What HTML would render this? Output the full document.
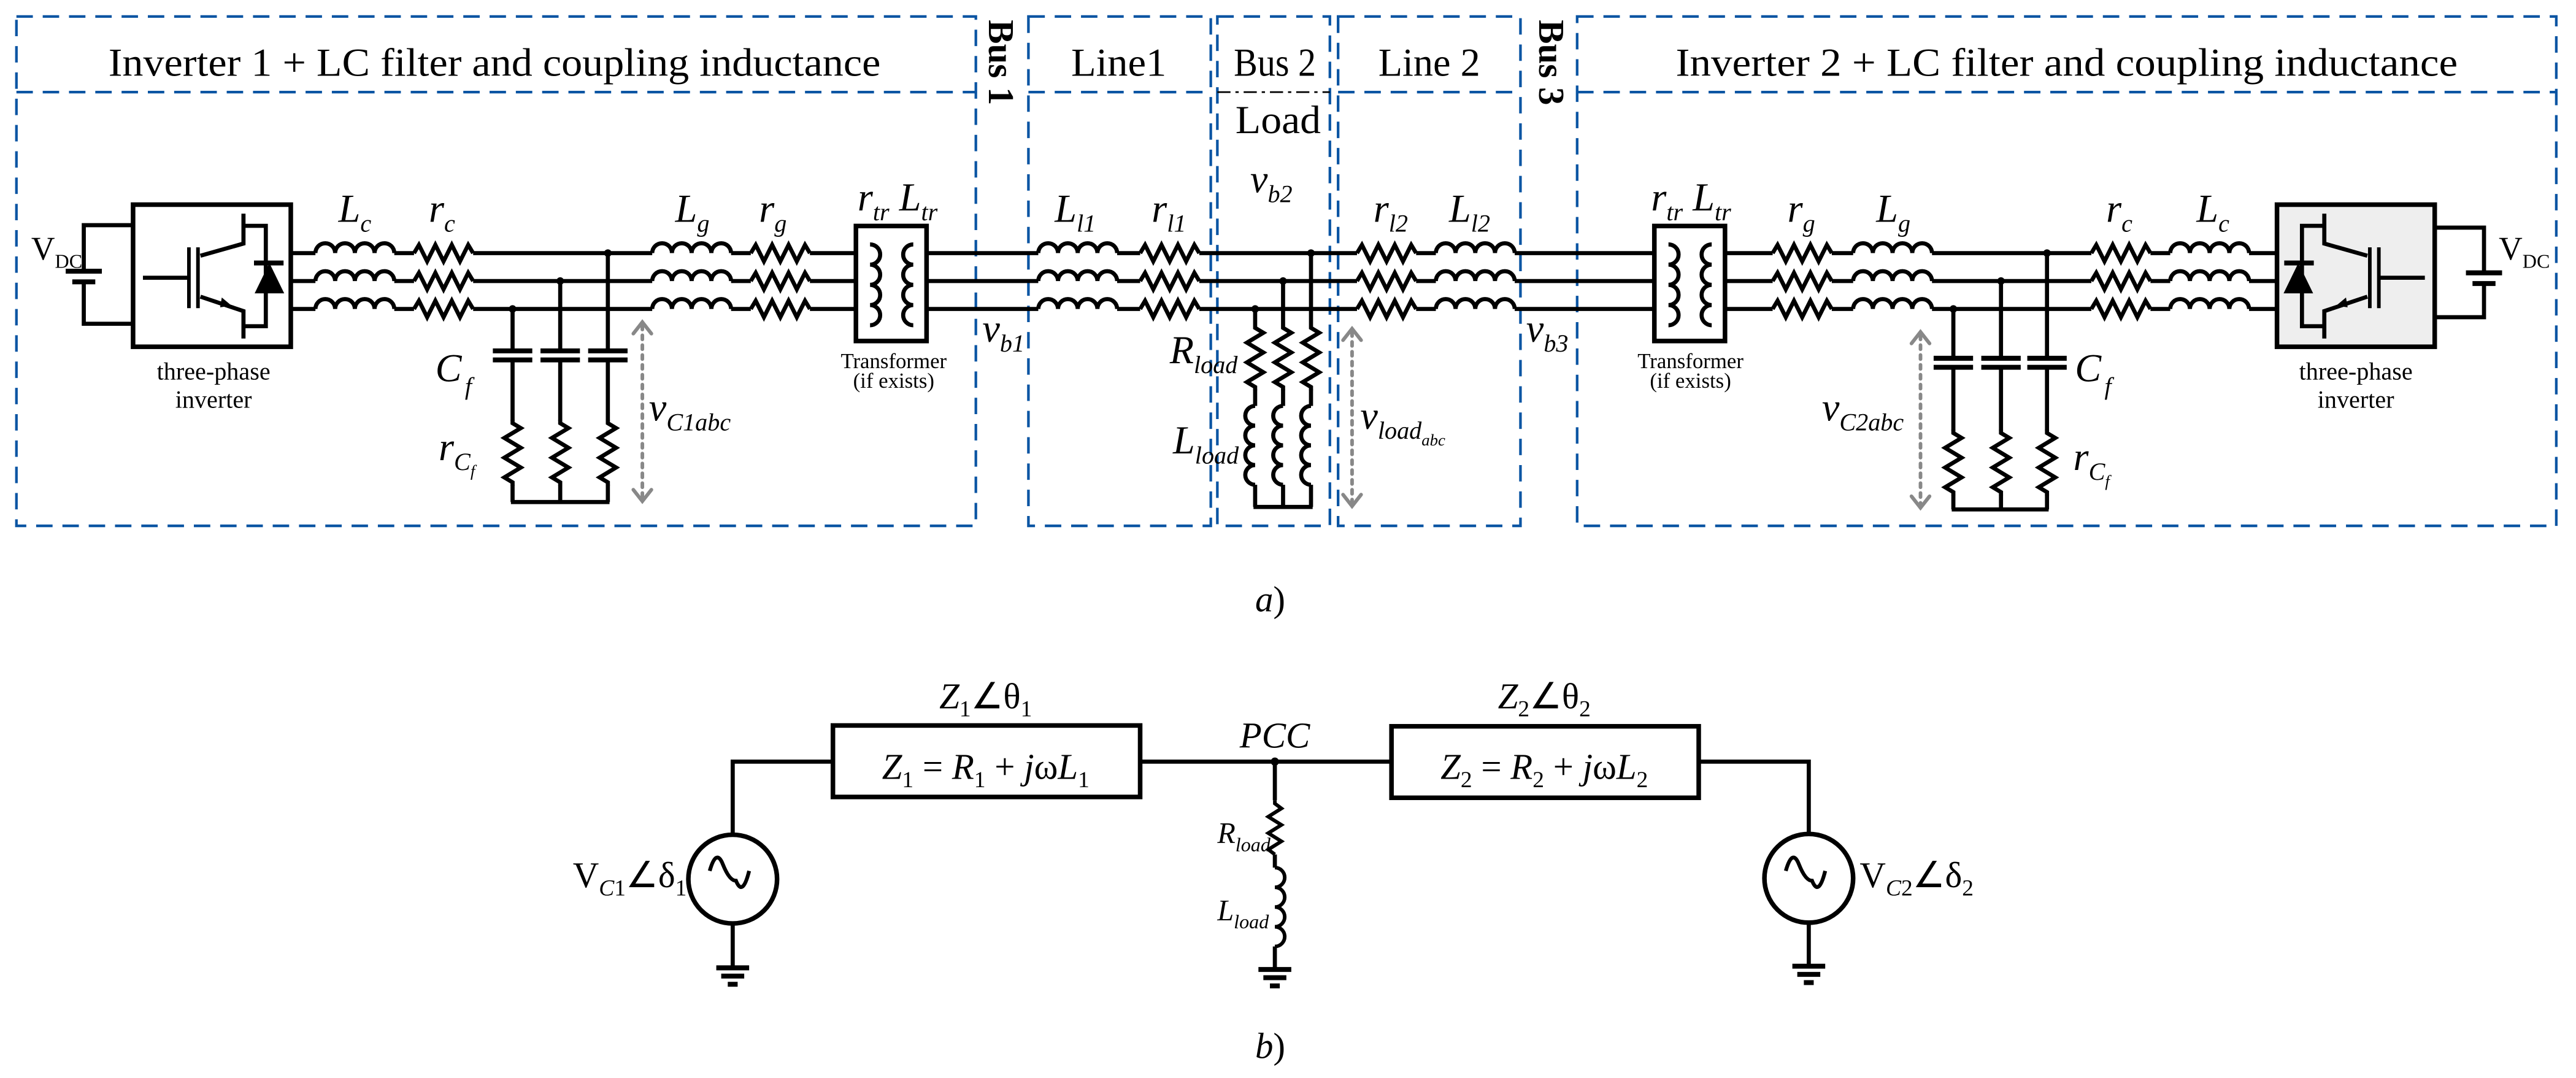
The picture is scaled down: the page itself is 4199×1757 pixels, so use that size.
<!DOCTYPE html>
<html><head><meta charset="utf-8"><style>
html,body{margin:0;padding:0;background:#fff;}
svg{display:block;}
text{font-family:"Liberation Serif",serif;fill:#000;}
</style></head><body>
<svg width="4199" height="1757" viewBox="0 0 1568 656" xmlns="http://www.w3.org/2000/svg">
<defs>
<path id="ind" d="M0,0 a6,6 0 0 1 12,0 a6,6 0 0 1 12,0 a6,6 0 0 1 12,0 a6,6 0 0 1 12,0" fill="none" stroke="#000" stroke-width="2.5"/>
<path id="res" d="M0,0 l3,-5 l5,10 l5,-10 l5,10 l5,-10 l5,10 l5,-10 l3,5" fill="none" stroke="#000" stroke-width="2.5" stroke-linejoin="miter"/>
<path id="vres" d="M0,0 l0,2 l5,3 l-10,6 l10,6 l-10,6 l10,6 l-10,6 l5,3 l0,2" fill="none" stroke="#000" stroke-width="2.5"/>
<path id="vind" d="M0,0 a6,6 0 0 0 0,12 a6,6 0 0 0 0,12 a6,6 0 0 0 0,12 a6,6 0 0 0 0,12" fill="none" stroke="#000" stroke-width="2.5"/>
<g id="inv">
<rect x="81" y="124.5" width="96" height="86.5" stroke="#000" stroke-width="2.8"/>
<line x1="87" y1="169" x2="114" y2="169" stroke="#000" stroke-width="2.5"/>
<line x1="115" y1="150.5" x2="115" y2="187.5" stroke="#000" stroke-width="2.2"/>
<line x1="120.5" y1="150.5" x2="120.5" y2="187.5" stroke="#000" stroke-width="2.2"/>
<polyline points="122,155.6 148.2,148.2 148.2,130" fill="none" stroke="#000" stroke-width="2.5"/>
<polyline points="122,180.5 148.2,189.3 148.2,206" fill="none" stroke="#000" stroke-width="2.5"/>
<polygon points="135,181 141,186 134,187" fill="#000"/>
<polyline points="148.2,137.4 161.8,137.4 161.8,198.5 148.2,198.5" fill="none" stroke="#000" stroke-width="2.5"/>
<line x1="154.6" y1="160" x2="172.6" y2="160" stroke="#000" stroke-width="3"/>
<polygon points="155,178.5 173,178.5 164,160" fill="#000"/>
</g>
<g id="xf">
<rect x="521" y="137.5" width="43" height="70" fill="#fff" stroke="#000" stroke-width="2.8"/>
<path d="M529.6,148.7 a6,6 0 0 1 0,12.3 a6,6 0 0 1 0,12.3 a6,6 0 0 1 0,12.3 a6,6 0 0 1 0,12.3" fill="none" stroke="#000" stroke-width="2.5"/>
<path d="M555.9,148.7 a6,6 0 0 0 0,12.3 a6,6 0 0 0 0,12.3 a6,6 0 0 0 0,12.3 a6,6 0 0 0 0,12.3" fill="none" stroke="#000" stroke-width="2.5"/>
</g>
</defs>

<g fill="none" stroke="#0b55a3" stroke-width="1.6" stroke-dasharray="10,6">
<rect x="10" y="10" width="584" height="310"/>
<line x1="10" y1="56" x2="594" y2="56"/>
<rect x="626" y="10" width="111" height="310"/>
<line x1="626" y1="56" x2="737" y2="56"/>
<rect x="741" y="10" width="68.5" height="310"/>
<rect x="814.5" y="10" width="111" height="310"/>
<line x1="814.5" y1="56" x2="925.5" y2="56"/>
<rect x="960" y="10" width="596" height="310"/>
<line x1="960" y1="56" x2="1556" y2="56"/>
</g>
<line x1="741" y1="56" x2="809.5" y2="56" stroke="#000" stroke-width="1" stroke-dasharray="8,3,2,3"/>

<text x="301" y="46" font-size="24" text-anchor="middle" textLength="470" lengthAdjust="spacingAndGlyphs">Inverter 1 + LC filter and coupling inductance</text>
<text x="681" y="46" font-size="24" text-anchor="middle" textLength="58" lengthAdjust="spacingAndGlyphs">Line1</text>
<text x="776" y="46" font-size="24" text-anchor="middle" textLength="50" lengthAdjust="spacingAndGlyphs">Bus 2</text>
<text x="778" y="81" font-size="24" text-anchor="middle" textLength="52" lengthAdjust="spacingAndGlyphs">Load</text>
<text x="870" y="46" font-size="24" text-anchor="middle" textLength="62" lengthAdjust="spacingAndGlyphs">Line 2</text>
<text x="1258" y="46" font-size="24" text-anchor="middle" textLength="476" lengthAdjust="spacingAndGlyphs">Inverter 2 + LC filter and coupling inductance</text>
<text transform="translate(602,12) rotate(90)" font-size="22" font-weight="bold">Bus 1</text>
<text transform="translate(937,12) rotate(90)" font-size="22" font-weight="bold">Bus 3</text>

<g stroke="#000" stroke-width="2.5">
<line x1="177" y1="154" x2="1386" y2="154"/>
<line x1="177" y1="171" x2="1386" y2="171"/>
<line x1="177" y1="188" x2="1386" y2="188"/>
</g>
<g fill="#fff">
<rect x="192" y="140" width="96" height="54"/>
<rect x="397" y="140" width="96" height="54"/>
<rect x="632" y="140" width="98" height="54"/>
<rect x="826" y="140" width="96" height="54"/>
<rect x="1079" y="140" width="97" height="54"/>
<rect x="1273" y="140" width="96" height="54"/>
</g>
<g>
<use href="#ind" x="192" y="154"/><use href="#ind" x="192" y="171"/><use href="#ind" x="192" y="188"/>
<use href="#res" x="252" y="154"/><use href="#res" x="252" y="171"/><use href="#res" x="252" y="188"/>
<use href="#ind" x="397" y="154"/><use href="#ind" x="397" y="171"/><use href="#ind" x="397" y="188"/>
<use href="#res" x="457" y="154"/><use href="#res" x="457" y="171"/><use href="#res" x="457" y="188"/>
<use href="#ind" x="632" y="154"/><use href="#ind" x="632" y="171"/><use href="#ind" x="632" y="188"/>
<use href="#res" x="694" y="154"/><use href="#res" x="694" y="171"/><use href="#res" x="694" y="188"/>
<use href="#res" x="826" y="154"/><use href="#res" x="826" y="171"/><use href="#res" x="826" y="188"/>
<use href="#ind" x="874" y="154"/><use href="#ind" x="874" y="171"/><use href="#ind" x="874" y="188"/>
<use href="#res" x="1079" y="154"/><use href="#res" x="1079" y="171"/><use href="#res" x="1079" y="188"/>
<use href="#ind" x="1128" y="154"/><use href="#ind" x="1128" y="171"/><use href="#ind" x="1128" y="188"/>
<use href="#res" x="1273" y="154"/><use href="#res" x="1273" y="171"/><use href="#res" x="1273" y="188"/>
<use href="#ind" x="1321" y="154"/><use href="#ind" x="1321" y="171"/><use href="#ind" x="1321" y="188"/>
</g>
<g stroke="#000" stroke-width="2.5">
<line x1="240" y1="154" x2="252" y2="154"/><line x1="240" y1="171" x2="252" y2="171"/><line x1="240" y1="188" x2="252" y2="188"/>
<line x1="445" y1="154" x2="457" y2="154"/><line x1="445" y1="171" x2="457" y2="171"/><line x1="445" y1="188" x2="457" y2="188"/>
<line x1="680" y1="154" x2="694" y2="154"/><line x1="680" y1="171" x2="694" y2="171"/><line x1="680" y1="188" x2="694" y2="188"/>
<line x1="862" y1="154" x2="874" y2="154"/><line x1="862" y1="171" x2="874" y2="171"/><line x1="862" y1="188" x2="874" y2="188"/>
<line x1="1115" y1="154" x2="1128" y2="154"/><line x1="1115" y1="171" x2="1128" y2="171"/><line x1="1115" y1="188" x2="1128" y2="188"/>
<line x1="1309" y1="154" x2="1321" y2="154"/><line x1="1309" y1="171" x2="1321" y2="171"/><line x1="1309" y1="188" x2="1321" y2="188"/>
</g>

<use href="#xf"/>
<use href="#xf" x="486"/>

<use href="#inv" fill="#fff"/>
<g transform="translate(1563,0) scale(-1,1)"><use href="#inv" fill="#eeeeee"/></g>

<g stroke="#000" stroke-width="2.5" fill="none">
<polyline points="81,137 51,137 51,165"/>
<polyline points="81,197 51,197 51,171"/>
<line x1="40" y1="165" x2="62" y2="165" stroke-width="3"/>
<line x1="44" y1="171.5" x2="58" y2="171.5" stroke-width="3"/>
<polyline points="1482,138.5 1512,138.5 1512,166"/>
<polyline points="1482,193 1512,193 1512,172"/>
<line x1="1501" y1="166" x2="1523" y2="166" stroke-width="3"/>
<line x1="1505" y1="172.5" x2="1519" y2="172.5" stroke-width="3"/>
</g>
<text x="19" y="158" font-size="20">V<tspan font-size="12" dy="5">DC</tspan></text>
<text x="1521" y="158" font-size="20">V<tspan font-size="12" dy="5">DC</tspan></text>
<text x="130" y="231" font-size="15" text-anchor="middle">three-phase</text>
<text x="130" y="248" font-size="15" text-anchor="middle">inverter</text>
<text x="1434" y="231" font-size="15" text-anchor="middle">three-phase</text>
<text x="1434" y="248" font-size="15" text-anchor="middle">inverter</text>
<text x="544" y="224" font-size="13" text-anchor="middle">Transformer</text>
<text x="544" y="236" font-size="13" text-anchor="middle">(if exists)</text>
<text x="1029" y="224" font-size="13" text-anchor="middle">Transformer</text>
<text x="1029" y="236" font-size="13" text-anchor="middle">(if exists)</text>

<g stroke="#000" stroke-width="2.5" fill="none">
<line x1="312" y1="188" x2="312" y2="213.5"/><line x1="341" y1="171" x2="341" y2="213.5"/><line x1="370" y1="154" x2="370" y2="213.5"/>
<g stroke-width="3">
<line x1="300" y1="213.5" x2="324" y2="213.5"/><line x1="300" y1="219" x2="324" y2="219"/>
<line x1="329" y1="213.5" x2="353" y2="213.5"/><line x1="329" y1="219" x2="353" y2="219"/>
<line x1="358" y1="213.5" x2="382" y2="213.5"/><line x1="358" y1="219" x2="382" y2="219"/>
</g>
<line x1="312" y1="219" x2="312" y2="256"/><line x1="341" y1="219" x2="341" y2="256"/><line x1="370" y1="219" x2="370" y2="256"/>
<line x1="312" y1="295" x2="312" y2="305.5"/><line x1="341" y1="295" x2="341" y2="305.5"/><line x1="370" y1="295" x2="370" y2="305.5"/>
<line x1="311" y1="305.5" x2="371" y2="305.5"/>
</g>
<use href="#vres" x="312" y="255.5"/><use href="#vres" x="341" y="255.5"/><use href="#vres" x="370" y="255.5"/>
<circle cx="312" cy="188" r="2.3"/><circle cx="341" cy="171" r="2.3"/><circle cx="370" cy="154" r="2.3"/>

<g stroke="#000" stroke-width="2.5" fill="none">
<line x1="1189" y1="188" x2="1189" y2="218"/><line x1="1218" y1="171" x2="1218" y2="218"/><line x1="1246" y1="154" x2="1246" y2="218"/>
<g stroke-width="3">
<line x1="1177" y1="218" x2="1201" y2="218"/><line x1="1177" y1="223.5" x2="1201" y2="223.5"/>
<line x1="1206" y1="218" x2="1230" y2="218"/><line x1="1206" y1="223.5" x2="1230" y2="223.5"/>
<line x1="1234" y1="218" x2="1258" y2="218"/><line x1="1234" y1="223.5" x2="1258" y2="223.5"/>
</g>
<line x1="1189" y1="223.5" x2="1189" y2="262"/><line x1="1218" y1="223.5" x2="1218" y2="262"/><line x1="1246" y1="223.5" x2="1246" y2="262"/>
<line x1="1189" y1="301" x2="1189" y2="310"/><line x1="1218" y1="301" x2="1218" y2="310"/><line x1="1246" y1="301" x2="1246" y2="310"/>
<line x1="1188" y1="310" x2="1247" y2="310"/>
</g>
<use href="#vres" x="1189" y="261.5"/><use href="#vres" x="1218" y="261.5"/><use href="#vres" x="1246" y="261.5"/>
<circle cx="1189" cy="188" r="2.3"/><circle cx="1218" cy="171" r="2.3"/><circle cx="1246" cy="154" r="2.3"/>

<g stroke="#000" stroke-width="2.5" fill="none">
<line x1="764" y1="188" x2="764" y2="197.5"/><line x1="781" y1="171" x2="781" y2="197.5"/><line x1="798" y1="154" x2="798" y2="197.5"/>
<line x1="764" y1="237" x2="764" y2="247"/><line x1="781" y1="237" x2="781" y2="247"/><line x1="798" y1="237" x2="798" y2="247"/>
<line x1="764" y1="295" x2="764" y2="308.5"/><line x1="781" y1="295" x2="781" y2="308.5"/><line x1="798" y1="295" x2="798" y2="308.5"/>
<line x1="763" y1="308.5" x2="799" y2="308.5"/>
</g>
<use href="#vres" x="764" y="197.5"/><use href="#vres" x="781" y="197.5"/><use href="#vres" x="798" y="197.5"/>
<use href="#vind" x="764" y="247"/><use href="#vind" x="781" y="247"/><use href="#vind" x="798" y="247"/>
<circle cx="764" cy="188" r="2.3"/><circle cx="781" cy="171" r="2.3"/><circle cx="798" cy="154" r="2.3"/>

<g stroke="#888" stroke-width="2.2" fill="none" stroke-linecap="round">
<line x1="391" y1="198" x2="391" y2="303" stroke-dasharray="2.5,3.5"/>
<polyline points="385.5,203 391,196 396.5,203"/><polyline points="385.5,298 391,305 396.5,298"/>
<line x1="823" y1="202" x2="823" y2="306" stroke-dasharray="2.5,3.5"/>
<polyline points="817.5,207 823,200 828.5,207"/><polyline points="817.5,301 823,308 828.5,301"/>
<line x1="1169" y1="204" x2="1169" y2="307" stroke-dasharray="2.5,3.5"/>
<polyline points="1163.5,209 1169,202 1174.5,209"/><polyline points="1163.5,302 1169,309 1174.5,302"/>
</g>

<g font-size="24" font-style="italic">
<text x="206" y="135">L<tspan font-size="15" dy="6">c</tspan></text>
<text x="261" y="135">r<tspan font-size="15" dy="6">c</tspan></text>
<text x="411" y="135">L<tspan font-size="15" dy="6">g</tspan></text>
<text x="462" y="135">r<tspan font-size="15" dy="6">g</tspan></text>
<text x="522" y="128">r<tspan font-size="15" dy="6">tr</tspan><tspan dy="-6"> L</tspan><tspan font-size="15" dy="6">tr</tspan></text>
<text x="642" y="135">L<tspan font-size="15" dy="6">l1</tspan></text>
<text x="701" y="135">r<tspan font-size="15" dy="6">l1</tspan></text>
<text x="836" y="135">r<tspan font-size="15" dy="6">l2</tspan></text>
<text x="882" y="135">L<tspan font-size="15" dy="6">l2</tspan></text>
<text x="1005" y="128">r<tspan font-size="15" dy="6">tr</tspan><tspan dy="-6"> L</tspan><tspan font-size="15" dy="6">tr</tspan></text>
<text x="1088" y="135">r<tspan font-size="15" dy="6">g</tspan></text>
<text x="1142" y="135">L<tspan font-size="15" dy="6">g</tspan></text>
<text x="1282" y="135">r<tspan font-size="15" dy="6">c</tspan></text>
<text x="1337" y="135">L<tspan font-size="15" dy="6">c</tspan></text>
<text x="265" y="232">C<tspan font-size="15" dx="2" dy="8">f</tspan></text>
<text x="267" y="280">r<tspan font-size="15" dy="6">C</tspan><tspan font-size="10" dy="4">f</tspan></text>
<text x="1263" y="232">C<tspan font-size="15" dx="2" dy="8">f</tspan></text>
<text x="1262" y="286">r<tspan font-size="15" dy="6">C</tspan><tspan font-size="10" dy="4">f</tspan></text>
<text x="395" y="256">v<tspan font-size="15" dy="6">C1abc</tspan></text>
<text x="1109" y="256">v<tspan font-size="15" dy="6">C2abc</tspan></text>
<text x="828" y="261">v<tspan font-size="15" dy="6">load</tspan><tspan font-size="10" dy="4">abc</tspan></text>
<text x="598" y="208">v<tspan font-size="15" dy="6">b1</tspan></text>
<text x="929" y="208">v<tspan font-size="15" dy="6">b3</tspan></text>
<text x="761" y="117">v<tspan font-size="15" dy="6">b2</tspan></text>
<text x="712" y="221">R<tspan font-size="15" dy="6">load</tspan></text>
<text x="714" y="276">L<tspan font-size="15" dy="6">load</tspan></text>
</g>

<text x="764" y="372" font-size="22" font-style="italic">a<tspan font-style="normal">)</tspan></text>
<text x="764" y="644" font-size="22" font-style="italic">b<tspan font-style="normal">)</tspan></text>

<g stroke="#000" stroke-width="2.5" fill="none">
<polyline points="507,463.5 446,463.5 446,508"/>
<line x1="694" y1="463.5" x2="847" y2="463.5"/>
<polyline points="1034,463.5 1101,463.5 1101,507.5"/>
<rect x="507" y="441.5" width="187" height="43.5" stroke-width="2.8"/>
<rect x="847" y="442" width="187" height="43.5" stroke-width="2.8"/>
<circle cx="446" cy="535" r="27" stroke-width="2.8"/>
<circle cx="1101" cy="534.5" r="27" stroke-width="2.8"/>
<path d="M432,530 q4,-14 8,-4 t8,10 q4,10 8,-6" stroke-width="2.3"/>
<path d="M1087,530 q4,-14 8,-4 t8,10 q4,10 8,-6" stroke-width="2.3"/>
<line x1="446" y1="562" x2="446" y2="588"/>
<line x1="1101" y1="561.5" x2="1101" y2="587"/>
<line x1="776" y1="463.5" x2="776" y2="487"/>
<line x1="776" y1="520" x2="776" y2="528"/>
<line x1="776" y1="576" x2="776" y2="589"/>
</g>
<path d="M776,487 l0,2 l4,3 l-8,5 l8,5 l-8,5 l8,5 l-8,5 l4,3 l0,0" fill="none" stroke="#000" stroke-width="2.2"/>
<path d="M776,528 a6,6 0 0 1 0,12 a6,6 0 0 1 0,12 a6,6 0 0 1 0,12 a6,6 0 0 1 0,12" fill="none" stroke="#000" stroke-width="2.2"/>
<circle cx="776" cy="463.5" r="2.5"/>
<g stroke="#000" stroke-width="3">
<line x1="436" y1="589" x2="456" y2="589"/><line x1="439" y1="594" x2="453" y2="594"/><line x1="443" y1="599" x2="449" y2="599"/>
<line x1="766" y1="590" x2="786" y2="590"/><line x1="769" y1="595" x2="783" y2="595"/><line x1="773" y1="600" x2="779" y2="600"/>
<line x1="1091" y1="588" x2="1111" y2="588"/><line x1="1094" y1="593" x2="1108" y2="593"/><line x1="1098" y1="598" x2="1104" y2="598"/>
</g>
<text x="600" y="474" font-size="22" text-anchor="middle"><tspan font-style="italic">Z</tspan><tspan font-size="14" dy="5">1</tspan><tspan dy="-5"> = </tspan><tspan font-style="italic">R</tspan><tspan font-size="14" dy="5">1</tspan><tspan dy="-5"> + </tspan><tspan font-style="italic">j</tspan>ω<tspan font-style="italic">L</tspan><tspan font-size="14" dy="5">1</tspan></text>
<text x="940" y="474" font-size="22" text-anchor="middle"><tspan font-style="italic">Z</tspan><tspan font-size="14" dy="5">2</tspan><tspan dy="-5"> = </tspan><tspan font-style="italic">R</tspan><tspan font-size="14" dy="5">2</tspan><tspan dy="-5"> + </tspan><tspan font-style="italic">j</tspan>ω<tspan font-style="italic">L</tspan><tspan font-size="14" dy="5">2</tspan></text>
<text x="600" y="431" font-size="22" text-anchor="middle"><tspan font-style="italic">Z</tspan><tspan font-size="14" dy="5">1</tspan><tspan dy="-5">∠θ</tspan><tspan font-size="14" dy="5">1</tspan></text>
<text x="940" y="431" font-size="22" text-anchor="middle"><tspan font-style="italic">Z</tspan><tspan font-size="14" dy="5">2</tspan><tspan dy="-5">∠θ</tspan><tspan font-size="14" dy="5">2</tspan></text>
<text x="776" y="455" font-size="22" font-style="italic" text-anchor="middle">PCC</text>
<text x="418" y="540" font-size="22" text-anchor="end">V<tspan font-size="14" font-style="italic" dy="5">C</tspan><tspan font-size="14">1</tspan><tspan dy="-5">∠δ</tspan><tspan font-size="14" dy="5">1</tspan></text>
<text x="1132" y="540" font-size="22">V<tspan font-size="14" font-style="italic" dy="5">C</tspan><tspan font-size="14">2</tspan><tspan dy="-5">∠δ</tspan><tspan font-size="14" dy="5">2</tspan></text>
<text x="741" y="513" font-size="18" font-style="italic">R<tspan font-size="12" dy="5">load</tspan></text>
<text x="741" y="560" font-size="18" font-style="italic">L<tspan font-size="12" dy="5">load</tspan></text>
</svg>
</body></html>
